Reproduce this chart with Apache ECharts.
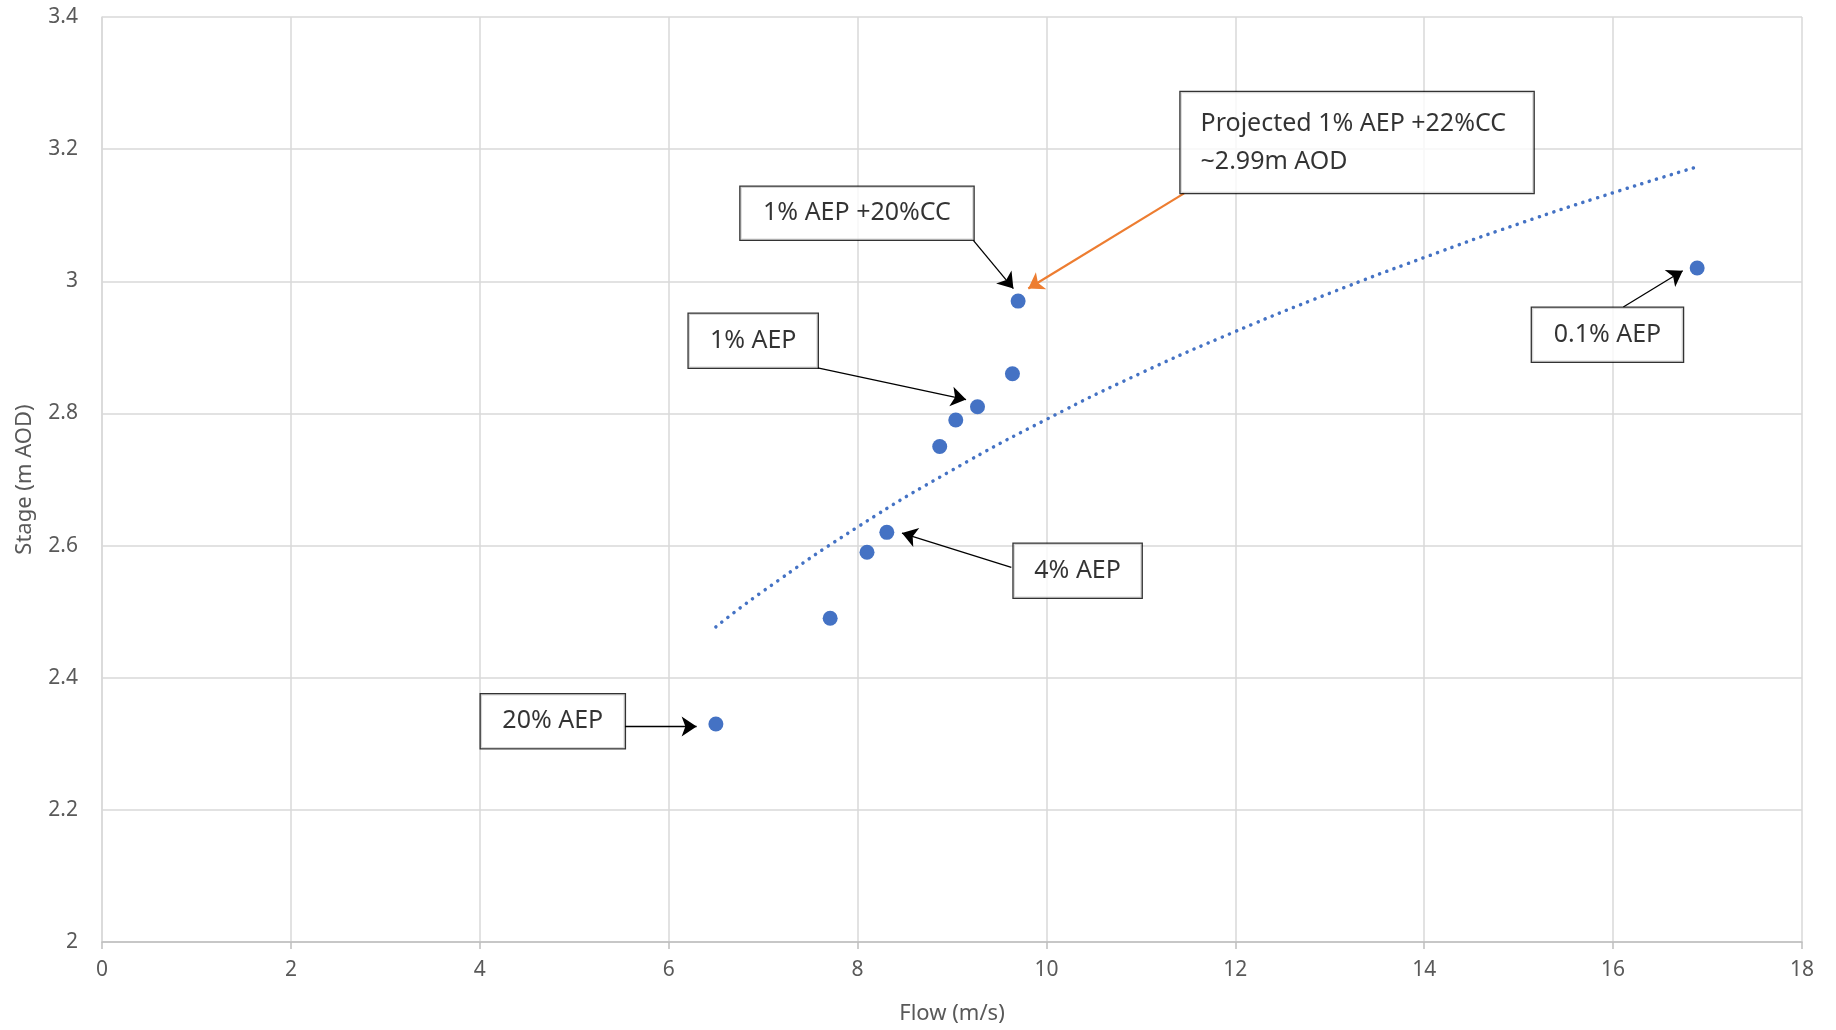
<!DOCTYPE html>
<html>
<head>
<meta charset="utf-8">
<script src="https://cdn.jsdelivr.net/npm/echarts@6/dist/echarts.min.js"></script>
<style>
  html, body { margin: 0; padding: 0; background: #fff; }
  #myChart { width: 1836px; height: 1030px; }
</style>
</head>
<body>
<div id="myChart"></div>
<script>
// 模型结果点 (flow, stage)
const flow = [6.50, 7.71, 8.10, 8.31, 8.87, 9.04, 9.27, 9.64, 9.70, 16.89]
const stage = [2.33, 2.49, 2.59, 2.62, 2.75, 2.79, 2.81, 2.86, 2.97, 3.02]

// 趋势线
const trendFlow = [6.5, 7, 8, 9, 10, 11, 12, 13, 14, 15, 16, 16.86]
const trendStage = [2.477, 2.531, 2.628, 2.714, 2.791, 2.861, 2.924, 2.982, 3.036, 3.087, 3.134, 3.172]

// 坐标轴刻度
const xTicks = [0, 2, 4, 6, 8, 10, 12, 14, 16, 18]
const yTicks = [2, 2.2, 2.4, 2.6, 2.8, 3, 3.2, 3.4]

// 标注文字
const noteText = ['1% AEP +20%CC', '1% AEP', 'Projected 1% AEP +22%CC\n~2.99m AOD', '0.1% AEP', '4% AEP', '20% AEP']
const noteX = [7.994, 6.895, 11.42, 15.94, 10.33, 4.773]
const noteY = [3.103, 2.910, 3.210, 2.919, 2.562, 2.334]

// 箭头 [x1, y1] -> [x2, y2]
const arrowFrom = [[9.226, 3.062], [7.578, 2.869], [11.457, 3.133], [16.108, 2.961], [9.628, 2.567], [5.535, 2.326]]
const arrowTo = [[9.650, 2.989], [9.149, 2.821], [9.808, 2.989], [16.737, 3.016], [8.470, 2.619], [6.296, 2.326]]

// 标注框尺寸 (content box, padding excluded)
const noteBox = [
  { width: 233, height: 49, lineHeight: 49, padding: [4, 0, 0, 0] },
  { width: 129, height: 50, lineHeight: 50, padding: [4, 0, 0, 0] },
  { width: 333, height: 90, lineHeight: 38, padding: [11, 0, 0, 20], align: 'left' },
  { width: 151, height: 50, lineHeight: 50, padding: [4, 0, 0, 0] },
  { width: 128, height: 50, lineHeight: 50, padding: [4, 0, 0, 0] },
  { width: 144, height: 50, lineHeight: 50, padding: [4, 0, 0, 0] },
]
const arrowColor = ['#000', '#000', '#ED7D31', '#000', '#000', '#000']

let myChart = echarts.init(document.getElementById('myChart'))

let option = {
  animation: false,
  grid: {
    left: 102,
    right: 34,
    top: 17,
    bottom: 88,
  },
  /*x坐标轴*/
  xAxis: {
    type: 'value',
    min: xTicks[0],
    max: xTicks[xTicks.length - 1],
    interval: 2,
    name: 'Flow (m/s)',
    nameLocation: 'middle',
    nameGap: 61,
    nameTextStyle: { color: '#595959', fontSize: 22, fontFamily: 'Noto Sans' },
    axisLine: { lineStyle: { color: '#BFBFBF', width: 1.5 } },
    axisTick: { show: true, length: 7, lineStyle: { color: '#BFBFBF', width: 1.5 } },
    axisLabel: { color: '#595959', fontSize: 21, fontFamily: 'Noto Sans', margin: 18 },
    splitLine: { show: true, lineStyle: { color: '#D9D9D9', width: 1.5 } },
  },
  /*y坐标轴*/
  yAxis: {
    type: 'value',
    min: yTicks[0],
    max: yTicks[yTicks.length - 1],
    interval: 0.2,
    name: 'Stage (m AOD)',
    nameLocation: 'middle',
    nameGap: 66,
    nameTextStyle: { color: '#595959', fontSize: 22, fontFamily: 'Noto Sans' },
    axisLine: { show: true, lineStyle: { color: '#D9D9D9', width: 1.5 } },
    axisTick: { show: false },
    axisLabel: { color: '#595959', fontSize: 21, fontFamily: 'Noto Sans', margin: 24 },
    splitLine: { show: true, lineStyle: { color: '#D9D9D9', width: 1.5 } },
  },
  series: [
    {
      name: 'trend',
      type: 'line',
      smooth: true,
      showSymbol: false,
      silent: true,
      data: trendFlow.map((x, i) => [x, trendStage[i]]),
      lineStyle: { color: '#4472C4', width: 3.5, type: [0.1, 7.6], cap: 'round' },
      z: 2,
    },
    {
      name: 'stage',
      type: 'scatter',
      symbolSize: 15,
      data: flow.map((x, i) => [x, stage[i]]),
      itemStyle: { color: '#4472C4', opacity: 1 },
      z: 3,
    },
    {
      name: 'notes',
      type: 'scatter',
      symbolSize: 1,
      silent: true,
      itemStyle: { color: 'rgba(0,0,0,0)' },
      data: noteText.map((t, i) => {
        const b = noteBox[i]
        return {
          value: [noteX[i], noteY[i]],
          label: {
            show: true,
            position: 'inside',
            formatter: t,
            align: b.align || 'center',
            verticalAlign: 'middle',
            width: b.width,
            height: b.height,
            padding: b.padding,
            lineHeight: b.lineHeight,
            color: '#000',
            fontSize: 25,
            fontFamily: 'Noto Sans',
            backgroundColor: '#fff',
            borderColor: '#000',
            borderWidth: 1.3,
          },
        }
      }),
      markLine: {
        silent: true,
        symbol: ['none', 'arrow'],
        symbolSize: 15,
        label: { show: false },
        data: arrowFrom.map((p, i) => [
          { coord: p, lineStyle: { color: arrowColor[i], width: i === 2 ? 2.2 : 1.3, type: 'solid' }, itemStyle: { color: arrowColor[i] } },
          { coord: arrowTo[i] },
        ]),
      },
      z: 5,
    },
  ],
}
myChart.setOption(option, true)
</script>
</body>
</html>
